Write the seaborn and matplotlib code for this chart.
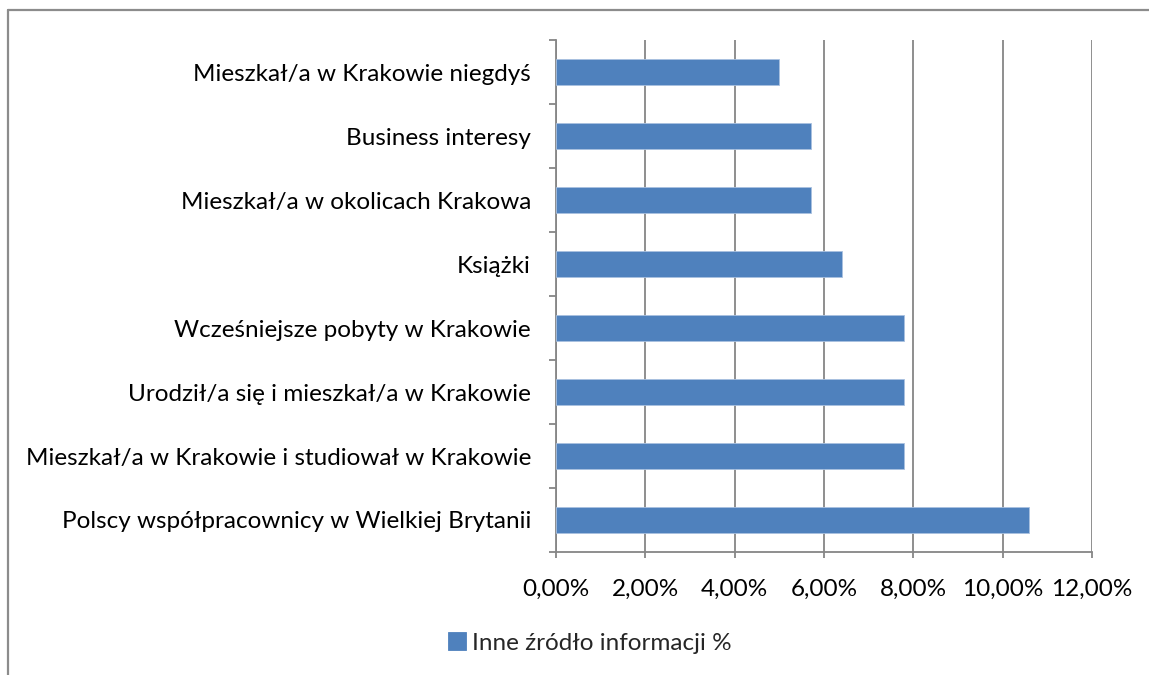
import matplotlib
matplotlib.use("Agg")
import matplotlib.pyplot as plt
from matplotlib.lines import Line2D
from matplotlib.ticker import FuncFormatter, FixedLocator
import pandas as pd
import seaborn as sns

categories = [
    "Mieszkał/a w Krakowie niegdyś",
    "Business interesy",
    "Mieszkał/a w okolicach Krakowa",
    "Książki",
    "Wcześniejsze pobyty w Krakowie",
    "Urodził/a się i mieszkał/a w Krakowie",
    "Mieszkał/a w Krakowie i studiował w Krakowie",
    "Polscy współpracownicy w Wielkiej Brytanii",
]
values = [5.0, 5.7, 5.7, 6.4, 7.8, 7.8, 7.8, 10.6]
series_name = "Inne źródło informacji %"
x_ticks = [0, 2, 4, 6, 8, 10, 12]

df = pd.DataFrame({"kategoria": categories, "wartosc": values})

sns.set_theme(style="white")
plt.rcParams["font.family"] = ["Lato", "DejaVu Sans"]

grid_col = "#868686"
bar_col = "#4F81BD"
fs = 17.5

fig = plt.figure(figsize=(11.49, 6.75), dpi=100)
ax = fig.add_axes([556 / 1149, 1 - 552 / 675, (1092 - 556) / 1149, (552 - 40) / 675])

sns.barplot(data=df, x="wartosc", y="kategoria", orient="h", color=bar_col,
            width=0.4, saturation=1, ax=ax, label=series_name,
            edgecolor="#A9C1E0", linewidth=0.6, zorder=3)

ax.set_xlim(0, 12)
ax.set_ylim(len(categories) - 0.5, -0.5)
ax.set_xlabel("")
ax.set_ylabel("")

ax.xaxis.set_major_locator(FixedLocator(x_ticks))
ax.xaxis.set_major_formatter(FuncFormatter(lambda v, p: f"{v:.2f}%".replace(".", ",")))
ax.grid(axis="x", color=grid_col, linewidth=1.3, zorder=0)
ax.set_axisbelow(True)

for side in ["top", "right"]:
    ax.spines[side].set_visible(False)
for side in ["left", "bottom"]:
    ax.spines[side].set_color(grid_col)
    ax.spines[side].set_linewidth(1.3)

# category boundaries carry the tick marks on the value-less axis
ax.yaxis.set_minor_locator(FixedLocator([i - 0.5 for i in range(len(categories) + 1)]))
ax.tick_params(axis="y", which="major", length=0, pad=18, labelsize=fs, labelcolor="#000000")
ax.tick_params(axis="y", which="minor", left=True, length=5, width=1.3, color=grid_col, direction="out")
ax.tick_params(axis="x", which="major", bottom=True, length=4.5, width=1.3, color=grid_col,
               direction="out", pad=15, labelsize=fs, labelcolor="#000000")

leg = ax.legend(loc="center", bbox_to_anchor=(590 / 1149, 1 - 643 / 675),
                bbox_transform=fig.transFigure, frameon=False, fontsize=fs,
                handlelength=0.75, handleheight=0.75, handletextpad=0.25)
for h in leg.legend_handles:
    h.set_edgecolor(bar_col)

# outer chart frame
fig.add_artist(Line2D([8 / 1149, 8 / 1149], [0, 1 - 10 / 675], transform=fig.transFigure,
                      color="#8C8C8C", linewidth=1.6))
fig.add_artist(Line2D([8 / 1149, 1], [1 - 10 / 675, 1 - 10 / 675], transform=fig.transFigure,
                      color="#8C8C8C", linewidth=1.6))

fig.savefig("out.png", dpi=100)
